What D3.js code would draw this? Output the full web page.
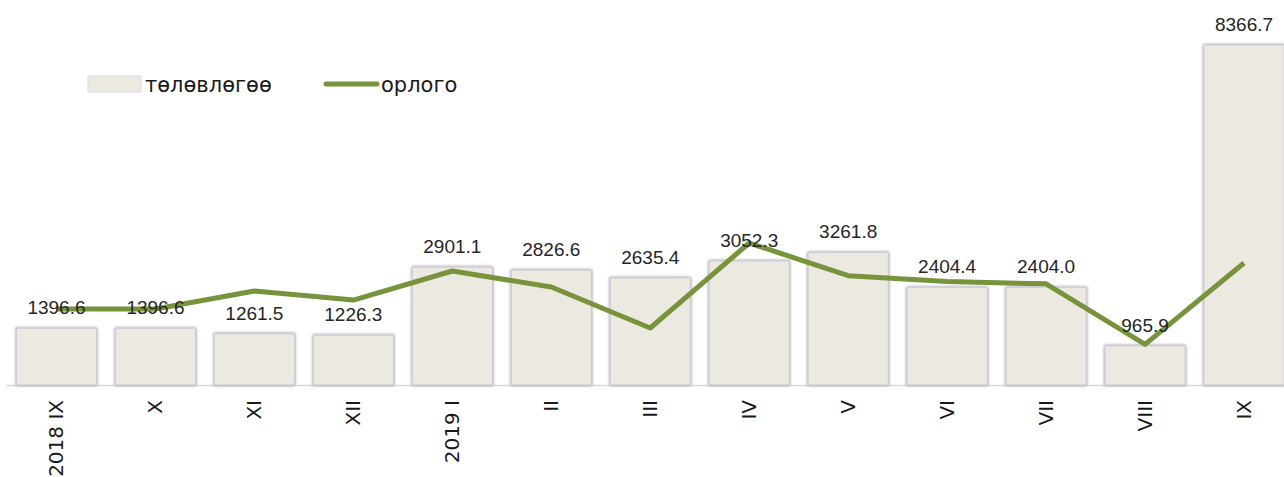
<!DOCTYPE html>
<html>
<head>
<meta charset="utf-8">
<script src="https://cdn.jsdelivr.net/npm/d3@7"></script>
<style>
  body { margin: 0; background: #fff; }
  svg { display: block; font-family: "Liberation Sans", Arial, sans-serif; }
</style>
</head>
<body>
<div id="chart"></div>
<script>
// 月
var months = ["2018 IX", "X", "XI", "XII", "2019 I", "II", "III", "IV", "V", "VI", "VII", "VIII", "IX"];
// төлөвлөгөө (bars)
var plan = [1396.6, 1396.6, 1261.5, 1226.3, 2901.1, 2826.6, 2635.4, 3052.3, 3261.8, 2404.4, 2404.0, 965.9, 8366.7];
// орлого (line)
var income = [1870, 1870, 2313, 2090, 2805, 2410, 1403, 3494, 2690, 2545, 2490, 1000, 3002];
var legendNames = ["төлөвлөгөө", "орлого"];

var W = 1284, H = 477;
var baseY = 385;

var svg = d3.select("#chart").append("svg")
  .attr("width", W).attr("height", H);

var defs = svg.append("defs");
var f = defs.append("filter").attr("id", "shadow")
  .attr("x", "-20%").attr("y", "-20%").attr("width", "140%").attr("height", "140%");
f.append("feDropShadow").attr("dx", 0).attr("dy", 0).attr("stdDeviation", 1.8)
  .attr("flood-color", "#5a5468").attr("flood-opacity", 0.75);

var x = d3.scaleBand().domain(months).range([7, 1293.5]).paddingInner(0.19).paddingOuter(0.095);
var y = d3.scaleLinear().domain([0, 8366.7]).range([baseY, 45]);

//軸線
svg.append("line")
  .attr("x1", 6).attr("x2", W).attr("y1", baseY + 0.5).attr("y2", baseY + 0.5)
  .attr("stroke", "#d9d9d9").attr("stroke-width", 1.5);

//棒
svg.append("g").selectAll("rect")
  .data(plan).enter().append("rect")
  .attr("x", function(d, i){ return x(months[i]); })
  .attr("y", function(d){ return y(d); })
  .attr("width", x.bandwidth())
  .attr("height", function(d){ return baseY - y(d); })
  .attr("fill", "#eceae0")
  .attr("stroke", "#cfcad8").attr("stroke-width", 1)
  .attr("filter", "url(#shadow)");

//線
var line = d3.line()
  .x(function(d, i){ return x(months[i]) + x.bandwidth() / 2; })
  .y(function(d){ return y(d); });

svg.append("path")
  .datum(income)
  .attr("d", line)
  .attr("fill", "none")
  .attr("stroke", "#77933c")
  .attr("stroke-width", 5)
  .attr("stroke-linejoin", "round");

//値ラベル
svg.append("g").selectAll("text")
  .data(plan).enter().append("text")
  .attr("x", function(d, i){ return x(months[i]) + x.bandwidth() / 2; })
  .attr("y", function(d){ return y(d) - 14; })
  .attr("text-anchor", "middle")
  .attr("font-size", "19px")
  .attr("fill", "#262626")
  .text(function(d){ return d.toFixed(1); });

//x軸ラベル
svg.append("g").selectAll("text")
  .data(months).enter().append("text")
  .attr("transform", function(d){
    return "translate(" + (x(d) + x.bandwidth() / 2) + "," + 400 + ") rotate(-90)";
  })
  .attr("text-anchor", "end")
  .attr("dy", ".35em")
  .attr("font-family", "DejaVu Sans")
  .attr("font-size", "20px")
  .attr("fill", "#1a1a1a")
  .text(function(d){ return d; });

//凡例
var lg = svg.append("g");
lg.append("rect")
  .attr("x", 88).attr("y", 76).attr("width", 53).attr("height", 16)
  .attr("fill", "#eceae0").attr("stroke", "#e0dae8").attr("stroke-width", 1);
lg.append("text")
  .attr("x", 145).attr("y", 85).attr("dy", ".35em")
  .attr("font-family", "DejaVu Sans")
  .attr("font-size", "21px").attr("fill", "#1a1a1a")
  .text(legendNames[0]);
lg.append("line")
  .attr("x1", 326).attr("x2", 377).attr("y1", 84).attr("y2", 84)
  .attr("stroke", "#77933c").attr("stroke-width", 5).attr("stroke-linecap", "round");
lg.append("text")
  .attr("x", 381).attr("y", 85).attr("dy", ".35em")
  .attr("font-family", "DejaVu Sans")
  .attr("font-size", "21px").attr("fill", "#1a1a1a")
  .text(legendNames[1]);
</script>
</body>
</html>
